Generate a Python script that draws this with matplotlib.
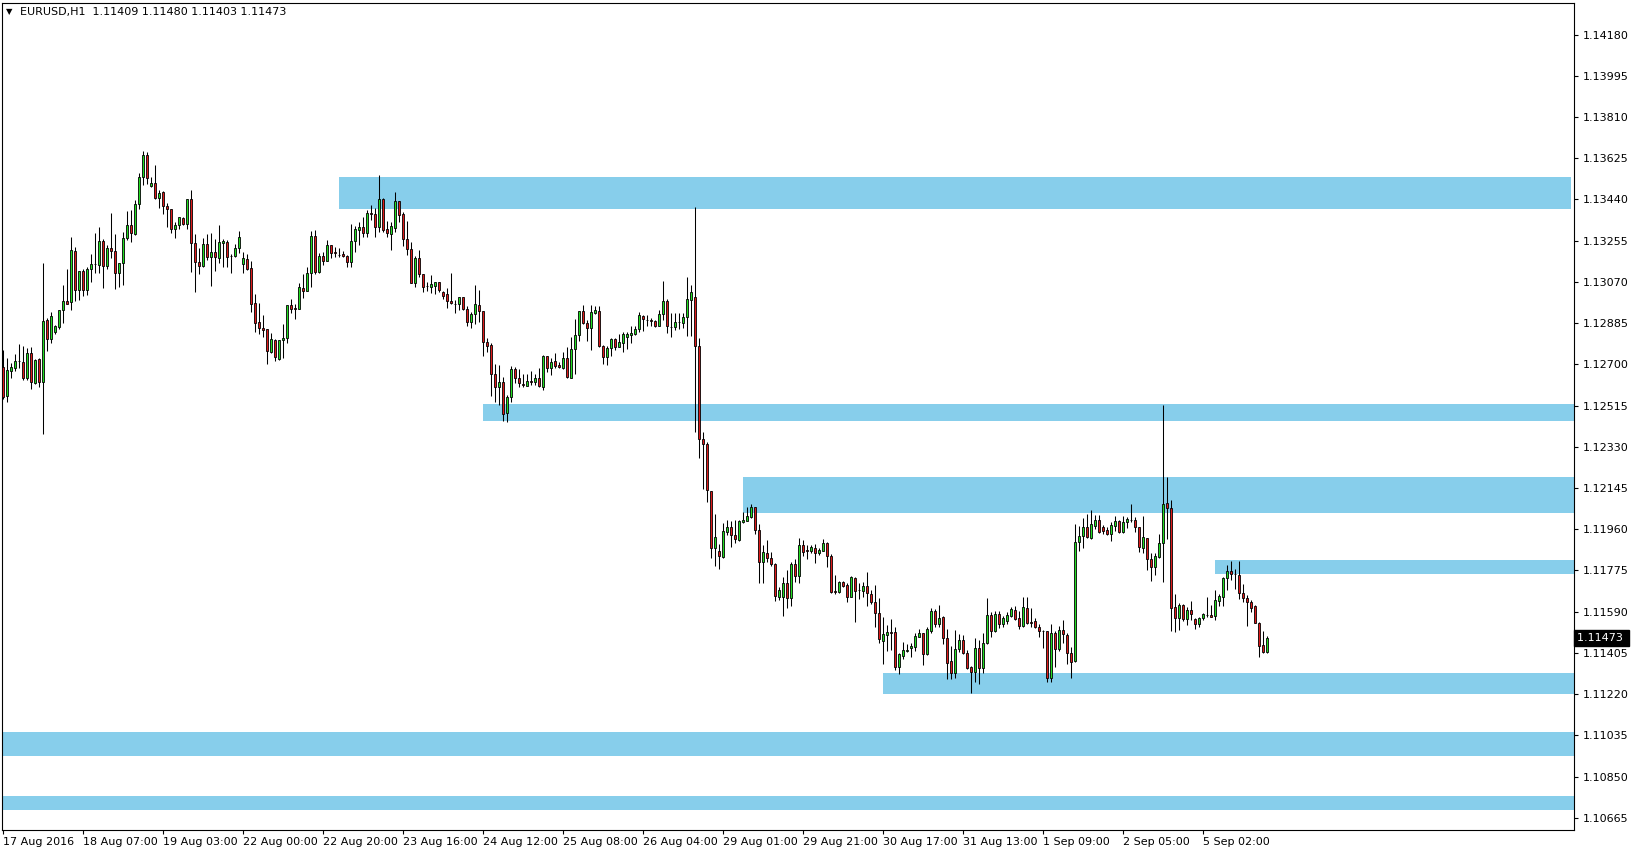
import matplotlib
matplotlib.use("Agg")
import matplotlib.pyplot as plt
from matplotlib.patches import Rectangle
import numpy as np

# EURUSD H1 bars, 17 Aug 2016 11:00 .. 5 Sep 2016 16:00
opens = [
    1.12690, 1.12560, 1.12672, 1.12685, 1.12715, 1.12709, 1.12637, 1.12750, 1.12618, 1.12724,
    1.12620, 1.12899, 1.12812, 1.12844, 1.12869, 1.12943, 1.12983, 1.12979, 1.13207, 1.13032,
    1.13119, 1.13034, 1.13127, 1.13149, 1.13146, 1.13254, 1.13140, 1.13222, 1.13207, 1.13112,
    1.13154, 1.13266, 1.13324, 1.13284, 1.13420, 1.13540, 1.13640, 1.13501, 1.13513, 1.13448,
    1.13472, 1.13409, 1.13396, 1.13306, 1.13324, 1.13356, 1.13332, 1.13441, 1.13243, 1.13161,
    1.13143, 1.13239, 1.13183, 1.13203, 1.13179, 1.13243, 1.13250, 1.13188, 1.13188, 1.13221,
    1.13149, 1.13173, 1.13131, 1.12974, 1.12888, 1.12864, 1.12857, 1.12754, 1.12809, 1.12724,
    1.12808, 1.12817, 1.12966, 1.12951, 1.12947, 1.13041, 1.13031, 1.13111, 1.13276, 1.13114,
    1.13186, 1.13165, 1.13236, 1.13203, 1.13191, 1.13195, 1.13186, 1.13161, 1.13253, 1.13303,
    1.13316, 1.13291, 1.13381, 1.13375, 1.13318, 1.13442, 1.13307, 1.13283, 1.13313, 1.13433,
    1.13375, 1.13261, 1.13216, 1.13066, 1.13176, 1.13104, 1.13051, 1.13048, 1.13051, 1.13068,
    1.13026, 1.13014, 1.12984, 1.12972, 1.12969, 1.13001, 1.12947, 1.12888, 1.12926, 1.12965,
    1.12939, 1.12799, 1.12787, 1.12659, 1.12597, 1.12619, 1.12480, 1.12552, 1.12677, 1.12637,
    1.12610, 1.12604, 1.12624, 1.12622, 1.12641, 1.12600, 1.12737, 1.12682, 1.12715, 1.12697,
    1.12685, 1.12727, 1.12641, 1.12767, 1.12831, 1.12939, 1.12887, 1.12861, 1.12932, 1.12939,
    1.12784, 1.12731, 1.12772, 1.12813, 1.12780, 1.12798, 1.12825, 1.12832, 1.12837, 1.12858,
    1.12918, 1.12900, 1.12897, 1.12895, 1.12870, 1.12925, 1.12985, 1.12867, 1.12867, 1.12889,
    1.12885, 1.12912, 1.12989, 1.13001, 1.12784, 1.12364, 1.12342, 1.12132, 1.11875, 1.11863,
    1.11837, 1.11947, 1.11969, 1.11935, 1.11912, 1.11991, 1.11999, 1.12017, 1.12059, 1.11957,
    1.11812, 1.11855, 1.11833, 1.11803, 1.11654, 1.11654, 1.11717, 1.11650, 1.11803, 1.11752,
    1.11888, 1.11865, 1.11864, 1.11874, 1.11855, 1.11864, 1.11897, 1.11841, 1.11681, 1.11678,
    1.11722, 1.11708, 1.11657, 1.11740, 1.11687, 1.11683, 1.11705, 1.11668, 1.11635, 1.11583,
    1.11460, 1.11485, 1.11500, 1.11497, 1.11343, 1.11393, 1.11415, 1.11429, 1.11433, 1.11478,
    1.11493, 1.11400, 1.11505, 1.11593, 1.11533, 1.11565, 1.11473, 1.11369, 1.11316, 1.11423,
    1.11463, 1.11406, 1.11340, 1.11318, 1.11426, 1.11336, 1.11448, 1.11575, 1.11505, 1.11578,
    1.11533, 1.11548, 1.11572, 1.11598, 1.11560, 1.11527, 1.11607, 1.11542, 1.11548, 1.11523,
    1.11505, 1.11503, 1.11291, 1.11493, 1.11421, 1.11508, 1.11485, 1.11403, 1.11370, 1.11904,
    1.11930, 1.11969, 1.11922, 1.11976, 1.12001, 1.11969, 1.11957, 1.11937, 1.11976, 1.11998,
    1.11949, 1.11994, 1.12003, 1.12001, 1.11969, 1.11874, 1.11919, 1.11825, 1.11789, 1.11837,
    1.11897, 1.12076, 1.12054, 1.11610, 1.11563, 1.11620, 1.11557, 1.11598, 1.11556, 1.11533,
    1.11563, 1.11575, 1.11575, 1.11572, 1.11640, 1.11657, 1.11740, 1.11773, 1.11758, 1.11755,
    1.11672, 1.11653, 1.11632, 1.11616, 1.11541, 1.11441, 1.11409,
]
highs = [
    1.12765, 1.12727, 1.12705, 1.12747, 1.12790, 1.12783, 1.12772, 1.12780, 1.12726, 1.12729,
    1.13154, 1.12907, 1.12935, 1.12877, 1.12944, 1.13056, 1.13127, 1.13270, 1.13225, 1.13119,
    1.13128, 1.13136, 1.13194, 1.13290, 1.13315, 1.13263, 1.13236, 1.13378, 1.13285, 1.13157,
    1.13296, 1.13388, 1.13393, 1.13438, 1.13561, 1.13659, 1.13653, 1.13543, 1.13593, 1.13481,
    1.13478, 1.13423, 1.13399, 1.13341, 1.13363, 1.13360, 1.13441, 1.13483, 1.13285, 1.13222,
    1.13266, 1.13285, 1.13288, 1.13262, 1.13325, 1.13262, 1.13258, 1.13195, 1.13240, 1.13300,
    1.13206, 1.13194, 1.13164, 1.13014, 1.12974, 1.12921, 1.12857, 1.12839, 1.12812, 1.12809,
    1.12879, 1.12966, 1.12992, 1.12971, 1.13064, 1.13105, 1.13138, 1.13300, 1.13303, 1.13198,
    1.13206, 1.13258, 1.13236, 1.13225, 1.13221, 1.13210, 1.13191, 1.13330, 1.13321, 1.13340,
    1.13363, 1.13393, 1.13415, 1.13400, 1.13551, 1.13446, 1.13343, 1.13340, 1.13473, 1.13435,
    1.13382, 1.13343, 1.13250, 1.13186, 1.13213, 1.13104, 1.13068, 1.13099, 1.13071, 1.13068,
    1.13030, 1.13041, 1.13110, 1.12989, 1.13004, 1.13004, 1.12963, 1.12936, 1.13056, 1.13033,
    1.12939, 1.12817, 1.12794, 1.12701, 1.12697, 1.12644, 1.12562, 1.12692, 1.12689, 1.12677,
    1.12656, 1.12659, 1.12670, 1.12656, 1.12682, 1.12742, 1.12739, 1.12727, 1.12752, 1.12709,
    1.12757, 1.12779, 1.12824, 1.12903, 1.12939, 1.12966, 1.12899, 1.12966, 1.12962, 1.12962,
    1.12787, 1.12784, 1.12817, 1.12817, 1.12837, 1.12847, 1.12847, 1.12873, 1.12874, 1.12937,
    1.12922, 1.12922, 1.12910, 1.12900, 1.12944, 1.13075, 1.12992, 1.12929, 1.12929, 1.12929,
    1.12929, 1.13091, 1.13057, 1.13405, 1.12817, 1.12395, 1.12351, 1.12132, 1.12029, 1.11894,
    1.11987, 1.12002, 1.11995, 1.12002, 1.12002, 1.12039, 1.12059, 1.12074, 1.12062, 1.11983,
    1.11890, 1.11912, 1.11857, 1.11810, 1.11702, 1.11747, 1.11777, 1.11814, 1.11826, 1.11919,
    1.11912, 1.11888, 1.11889, 1.11894, 1.11874, 1.11915, 1.11904, 1.11849, 1.11755, 1.11728,
    1.11728, 1.11720, 1.11750, 1.11744, 1.11720, 1.11725, 1.11767, 1.11687, 1.11710, 1.11653,
    1.11568, 1.11530, 1.11557, 1.11523, 1.11403, 1.11452, 1.11445, 1.11451, 1.11493, 1.11512,
    1.11493, 1.11523, 1.11608, 1.11601, 1.11620, 1.11571, 1.11511, 1.11436, 1.11508, 1.11490,
    1.11485, 1.11418, 1.11346, 1.11473, 1.11463, 1.11493, 1.11653, 1.11590, 1.11593, 1.11593,
    1.11571, 1.11590, 1.11613, 1.11617, 1.11595, 1.11654, 1.11657, 1.11608, 1.11563, 1.11535,
    1.11508, 1.11503, 1.11535, 1.11505, 1.11527, 1.11553, 1.11493, 1.11433, 1.11984, 1.11975,
    1.12012, 1.12028, 1.12046, 1.12024, 1.12024, 1.11979, 1.11972, 1.11994, 1.12021, 1.12001,
    1.12021, 1.12016, 1.12073, 1.12013, 1.11969, 1.12020, 1.11919, 1.11852, 1.11852, 1.11939,
    1.12518, 1.12193, 1.12091, 1.11669, 1.11628, 1.11625, 1.11610, 1.11638, 1.11560, 1.11568,
    1.11583, 1.11657, 1.11620, 1.11687, 1.11668, 1.11747, 1.11800, 1.11818, 1.11782, 1.11818,
    1.11713, 1.11665, 1.11642, 1.11620, 1.11542, 1.11503, 1.11480,
]
lows = [
    1.12543, 1.12533, 1.12637, 1.12672, 1.12685, 1.12630, 1.12630, 1.12588, 1.12612, 1.12600,
    1.12386, 1.12762, 1.12795, 1.12836, 1.12860, 1.12887, 1.12970, 1.12944, 1.12986, 1.12989,
    1.13009, 1.13011, 1.13071, 1.13112, 1.13112, 1.13044, 1.13127, 1.13176, 1.13037, 1.13049,
    1.13055, 1.13258, 1.13248, 1.13282, 1.13399, 1.13504, 1.13510, 1.13498, 1.13444, 1.13403,
    1.13374, 1.13318, 1.13291, 1.13269, 1.13309, 1.13324, 1.13306, 1.13116, 1.13026, 1.13104,
    1.13139, 1.13169, 1.13053, 1.13120, 1.13153, 1.13138, 1.13138, 1.13108, 1.13183, 1.13198,
    1.13111, 1.13123, 1.12936, 1.12847, 1.12835, 1.12824, 1.12700, 1.12751, 1.12716, 1.12719,
    1.12727, 1.12797, 1.12929, 1.12902, 1.12947, 1.12999, 1.13031, 1.13049, 1.13105, 1.13111,
    1.13146, 1.13164, 1.13176, 1.13183, 1.13183, 1.13183, 1.13138, 1.13138, 1.13206, 1.13237,
    1.13273, 1.13273, 1.13348, 1.13270, 1.13295, 1.13295, 1.13270, 1.13213, 1.13295, 1.13340,
    1.13231, 1.13191, 1.13063, 1.13045, 1.13093, 1.13026, 1.13030, 1.13021, 1.13014, 1.13026,
    1.12993, 1.12954, 1.12969, 1.12929, 1.12944, 1.12944, 1.12872, 1.12861, 1.12881, 1.12891,
    1.12739, 1.12757, 1.12559, 1.12529, 1.12517, 1.12447, 1.12440, 1.12529, 1.12615, 1.12597,
    1.12597, 1.12603, 1.12607, 1.12607, 1.12597, 1.12585, 1.12667, 1.12652, 1.12685, 1.12682,
    1.12679, 1.12640, 1.12640, 1.12656, 1.12806, 1.12881, 1.12806, 1.12764, 1.12926, 1.12779,
    1.12701, 1.12697, 1.12739, 1.12765, 1.12777, 1.12757, 1.12768, 1.12798, 1.12832, 1.12847,
    1.12852, 1.12873, 1.12870, 1.12867, 1.12870, 1.12900, 1.12843, 1.12825, 1.12855, 1.12858,
    1.12862, 1.12829, 1.12829, 1.12398, 1.12279, 1.12141, 1.12084, 1.11830, 1.11797, 1.11782,
    1.11830, 1.11932, 1.11879, 1.11897, 1.11909, 1.11987, 1.11995, 1.12012, 1.11938, 1.11718,
    1.11721, 1.11815, 1.11793, 1.11640, 1.11642, 1.11571, 1.11605, 1.11616, 1.11725, 1.11720,
    1.11840, 1.11826, 1.11855, 1.11810, 1.11844, 1.11862, 1.11792, 1.11675, 1.11669, 1.11675,
    1.11702, 1.11635, 1.11654, 1.11545, 1.11647, 1.11657, 1.11617, 1.11623, 1.11523, 1.11448,
    1.11355, 1.11415, 1.11418, 1.11328, 1.11310, 1.11378, 1.11408, 1.11388, 1.11415, 1.11475,
    1.11351, 1.11396, 1.11496, 1.11523, 1.11520, 1.11445, 1.11288, 1.11288, 1.11294, 1.11408,
    1.11400, 1.11333, 1.11224, 1.11273, 1.11265, 1.11313, 1.11445, 1.11478, 1.11500, 1.11518,
    1.11523, 1.11533, 1.11565, 1.11553, 1.11511, 1.11523, 1.11535, 1.11523, 1.11518, 1.11475,
    1.11426, 1.11273, 1.11273, 1.11343, 1.11415, 1.11448, 1.11355, 1.11294, 1.11366, 1.11864,
    1.11877, 1.11919, 1.11915, 1.11960, 1.11942, 1.11937, 1.11934, 1.11909, 1.11954, 1.11942,
    1.11945, 1.11964, 1.11994, 1.11949, 1.11859, 1.11855, 1.11777, 1.11728, 1.11755, 1.11830,
    1.11725, 1.11916, 1.11505, 1.11497, 1.11508, 1.11550, 1.11530, 1.11553, 1.11512, 1.11520,
    1.11553, 1.11568, 1.11565, 1.11553, 1.11617, 1.11616, 1.11687, 1.11732, 1.11692, 1.11647,
    1.11635, 1.11526, 1.11590, 1.11538, 1.11388, 1.11403, 1.11403,
]
closes = [
    1.12555, 1.12675, 1.12687, 1.12715, 1.12714, 1.12637, 1.12750, 1.12620, 1.12720, 1.12620,
    1.12895, 1.12812, 1.12917, 1.12872, 1.12943, 1.12983, 1.12973, 1.13213, 1.13032, 1.13119,
    1.13034, 1.13127, 1.13149, 1.13150, 1.13254, 1.13143, 1.13222, 1.13207, 1.13112, 1.13154,
    1.13266, 1.13324, 1.13288, 1.13420, 1.13540, 1.13640, 1.13535, 1.13513, 1.13448, 1.13469,
    1.13409, 1.13396, 1.13306, 1.13326, 1.13360, 1.13332, 1.13441, 1.13243, 1.13161, 1.13143,
    1.13239, 1.13184, 1.13203, 1.13183, 1.13248, 1.13253, 1.13183, 1.13187, 1.13221, 1.13270,
    1.13176, 1.13128, 1.12971, 1.12885, 1.12864, 1.12854, 1.12761, 1.12812, 1.12731, 1.12808,
    1.12817, 1.12966, 1.12948, 1.12950, 1.13046, 1.13031, 1.13111, 1.13276, 1.13114, 1.13186,
    1.13165, 1.13236, 1.13201, 1.13202, 1.13190, 1.13186, 1.13161, 1.13253, 1.13306, 1.13316,
    1.13291, 1.13381, 1.13375, 1.13318, 1.13442, 1.13303, 1.13288, 1.13321, 1.13433, 1.13372,
    1.13261, 1.13216, 1.13066, 1.13176, 1.13104, 1.13048, 1.13050, 1.13059, 1.13068, 1.13033,
    1.13008, 1.12984, 1.12974, 1.12971, 1.13001, 1.12947, 1.12891, 1.12926, 1.12969, 1.12939,
    1.12799, 1.12784, 1.12655, 1.12597, 1.12619, 1.12477, 1.12552, 1.12677, 1.12641, 1.12615,
    1.12609, 1.12625, 1.12623, 1.12637, 1.12604, 1.12737, 1.12682, 1.12709, 1.12692, 1.12689,
    1.12727, 1.12644, 1.12767, 1.12831, 1.12939, 1.12887, 1.12861, 1.12933, 1.12944, 1.12784,
    1.12731, 1.12772, 1.12813, 1.12780, 1.12802, 1.12837, 1.12837, 1.12843, 1.12859, 1.12922,
    1.12903, 1.12899, 1.12896, 1.12874, 1.12925, 1.12985, 1.12870, 1.12866, 1.12892, 1.12888,
    1.12912, 1.12992, 1.13024, 1.12784, 1.12364, 1.12342, 1.12134, 1.11878, 1.11927, 1.11842,
    1.11950, 1.11969, 1.11932, 1.11915, 1.11998, 1.12002, 1.12020, 1.12059, 1.11957, 1.11812,
    1.11857, 1.11833, 1.11803, 1.11660, 1.11687, 1.11717, 1.11650, 1.11803, 1.11752, 1.11888,
    1.11859, 1.11864, 1.11882, 1.11855, 1.11867, 1.11897, 1.11841, 1.11678, 1.11680, 1.11722,
    1.11705, 1.11657, 1.11744, 1.11684, 1.11686, 1.11705, 1.11672, 1.11635, 1.11583, 1.11466,
    1.11490, 1.11497, 1.11493, 1.11343, 1.11400, 1.11418, 1.11416, 1.11436, 1.11481, 1.11493,
    1.11400, 1.11512, 1.11593, 1.11535, 1.11563, 1.11473, 1.11361, 1.11316, 1.11421, 1.11463,
    1.11406, 1.11339, 1.11318, 1.11426, 1.11336, 1.11448, 1.11575, 1.11505, 1.11578, 1.11533,
    1.11560, 1.11575, 1.11602, 1.11556, 1.11527, 1.11610, 1.11541, 1.11541, 1.11523, 1.11505,
    1.11504, 1.11291, 1.11493, 1.11421, 1.11508, 1.11488, 1.11403, 1.11363, 1.11901, 1.11930,
    1.11969, 1.11924, 1.11984, 1.12001, 1.11946, 1.11954, 1.11939, 1.11979, 1.11998, 1.11949,
    1.11994, 1.12006, 1.12002, 1.11969, 1.11879, 1.11924, 1.11825, 1.11792, 1.11840, 1.11897,
    1.12073, 1.12054, 1.11605, 1.11563, 1.11620, 1.11557, 1.11598, 1.11578, 1.11533, 1.11563,
    1.11578, 1.11576, 1.11568, 1.11642, 1.11660, 1.11740, 1.11773, 1.11758, 1.11757, 1.11672,
    1.11653, 1.11635, 1.11608, 1.11541, 1.11437, 1.11408, 1.11473,
]

date_labels = ["17 Aug 2016", "18 Aug 07:00", "19 Aug 03:00", "22 Aug 00:00",
               "22 Aug 20:00", "23 Aug 16:00", "24 Aug 12:00", "25 Aug 08:00",
               "26 Aug 04:00", "29 Aug 01:00", "29 Aug 21:00", "30 Aug 17:00",
               "31 Aug 13:00", "1 Sep 09:00", "2 Sep 05:00", "5 Sep 02:00"]
price_ticks = [1.10665, 1.10850, 1.11035, 1.11220, 1.11405, 1.11590, 1.11775,
               1.11960, 1.12145, 1.12330, 1.12515, 1.12700, 1.12885, 1.13070,
               1.13255, 1.13440, 1.13625, 1.13810, 1.13995, 1.14180]

# supply / demand zones: first bar, last bar, low, high
zone_start = [84, 120, 185, 303, 220, 0, 0]
zone_end = [392.0, 393, 393, 393, 393, 393, 393]
zone_low = [1.13397, 1.12447, 1.12034, 1.11761, 1.11222, 1.10944, 1.10700]
zone_high = [1.13541, 1.12522, 1.12195, 1.11822, 1.11315, 1.11050, 1.10763]

W, H = 1634, 852
fig = plt.figure(figsize=(W / 100, H / 100), dpi=100)
ax = fig.add_axes([2 / W, 22 / H, 1572 / W, 827 / H])
ax.set_xlim(-0.25, 392.75)
ax.set_ylim(1.106103, 1.143218)

for s, e, lo, hi in zip(zone_start, zone_end, zone_low, zone_high):
    ax.add_patch(Rectangle((s, lo), e - s, hi - lo, facecolor="#87ceeb",
                           edgecolor="none", zorder=1))

o = np.array(opens)
c = np.array(closes)
x = np.arange(len(o))
bull = c >= o
ax.vlines(x, lows, highs, color="black", linewidth=0.75, zorder=3)
ax.bar(x, c - o, bottom=o, width=0.68,
       color=np.where(bull, "#22dd22", "#dd1a1a"),
       edgecolor="black", linewidth=0.6, zorder=4)

ax.yaxis.tick_right()
ax.set_yticks(price_ticks)
ax.set_yticklabels([f"{t:.5f}" for t in price_ticks])
ax.tick_params(axis="y", direction="out", length=3, width=0.8, labelsize=8, pad=3)

ax.set_xticks(np.arange(len(date_labels)) * 20)
ax.set_xticklabels(date_labels, ha="left")
ax.tick_params(axis="x", direction="out", length=3, width=0.8, labelsize=8, pad=2)

for sp in ax.spines.values():
    sp.set_linewidth(0.8)
    sp.set_color("black")

# current price marker
ax.text(1.002, closes[-1], f"{closes[-1]:.5f} ", transform=ax.get_yaxis_transform(),
        color="white", fontsize=8, va="center", ha="left",
        bbox=dict(boxstyle="square,pad=0.25", facecolor="black", edgecolor="black"))

fig.text(6 / W, 1 - 12 / H, "\u25bc", fontsize=6, va="center", ha="left")
fig.text(20 / W, 1 - 12 / H, f"EURUSD,H1  {opens[-1]:.5f} {highs[-1]:.5f} {lows[-1]:.5f} {closes[-1]:.5f}",
         fontsize=8, va="center", ha="left")

fig.savefig("out.png", dpi=100, facecolor="white")
